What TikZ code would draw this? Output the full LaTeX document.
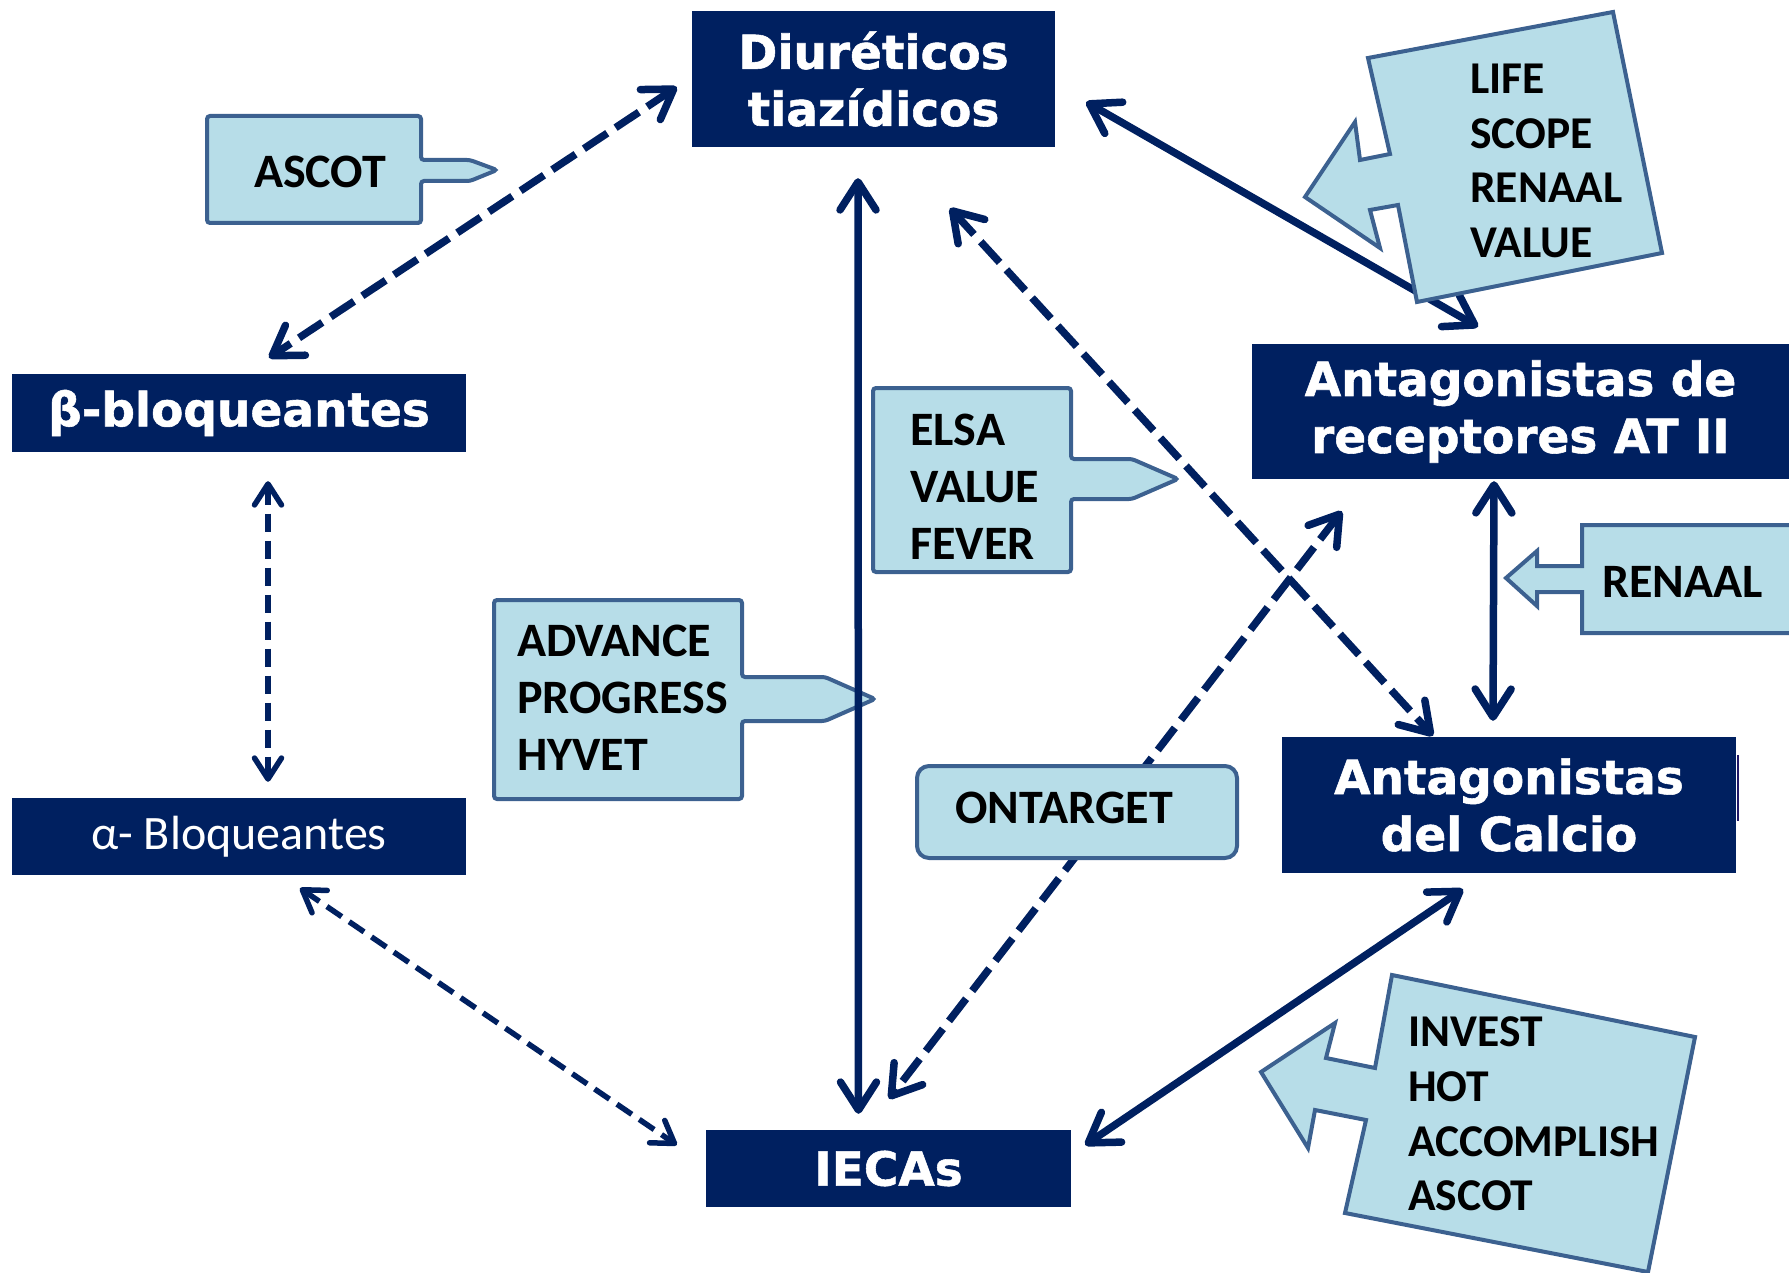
\documentclass[tikz,border=0pt]{standalone}
\usepackage{fontspec}
\setmainfont{Carlito}
\newfontfamily\heavy{DejaVu Sans Bold}[FakeBold=1.2]
\usetikzlibrary{arrows.meta,calc}

\definecolor{navy}{RGB}{0,32,96}
\definecolor{pale}{RGB}{183,221,232}
\definecolor{rim}{RGB}{60,97,144}

\tikzset{
  drug/.style={fill=navy, text=white, align=center, inner sep=0pt,
    font=\heavy\fontsize{47}{57}\selectfont},
  drugplain/.style={drug, font=\fontsize{48}{54}\selectfont},
  trial/.style={fill=pale, draw=rim, line width=4pt, line join=miter},
  triallabel/.style={anchor=west, align=left, inner sep=0pt,
    font=\bfseries\fontsize{48}{57}\selectfont},
  tiltlabel/.style={triallabel, font=\bfseries\fontsize{45.5}{54.7}\selectfont},
  bighead/.style={arrows={Straight Barb[length=28pt,width=36pt,round]-Straight Barb[length=28pt,width=36pt,round]}},
  smallhead/.style={arrows={Straight Barb[length=21pt,width=27pt,round]-Straight Barb[length=21pt,width=27pt,round]}},
  link/.style={draw=navy, line width=7.5pt, bighead},
  dlink/.style={link, dash pattern=on 28pt off 10pt},
  tlink/.style={draw=navy, line width=5.5pt, smallhead, dash pattern=on 18pt off 9pt},
}

\begin{document}
\begin{tikzpicture}[x=1pt,y=-1pt]
\useasboundingbox (0,0) rectangle (1789,1273);

% drug classes
\node[drug, minimum width=363pt, minimum height=136pt] (diu) at (873.5,79) {Diuréticos\\tiazídicos};
\node[drug, minimum width=454pt, minimum height=78pt] (beta) at (239,413) {β-bloqueantes};
\node[drugplain, minimum width=454pt, minimum height=77pt] (alpha) at (239,836.5) {α- Bloqueantes};
\node[drug, minimum width=537pt, minimum height=135pt] (at2) at (1520.5,411.5) {Antagonistas de\\receptores AT II};
\node[drug, minimum width=454pt, minimum height=136pt] (calc) at (1509,805) {Antagonistas\\del Calcio};
\draw[navy!75!violet, line width=1.5pt] ($(calc.east)+(2,-50)$) -- ($(calc.east)+(2,16)$);
\node[drug, minimum width=365pt, minimum height=77pt] (ieca) at (888.5,1168.5) {IECAs};

% trial callout lying under the diuretic--IECA link
\filldraw[trial, rounded corners=3pt] (494,600) -- (742,600) -- (742,677) -- (825,677)
  -- (875,699) -- (825,721) -- (742,721) -- (742,799) -- (494,799) -- cycle;
\node[triallabel] (advance) at (517,698) {ADVANCE\\PROGRESS\\HYVET};

% links between classes
\draw[dlink] ($(diu.west)+(-15,8)$) -- ($(beta.north)+(30,-16)$);
\draw[link] ($(diu.south)+(-15.5,31)$) -- ($(ieca.north)+(-30,-16)$);
\draw[dlink] ($(diu.south)+(76.5,61)$) -- ($(calc.north)+(-76,-1)$);
\draw[link] ($(diu.east)+(31,23)$) -- ($(at2.north)+(-42.5,-17)$);
\draw[link] ($(at2.south)+(-26.5,2)$) -- ($(calc.north)+(-16,-16)$);
\draw[dlink] ($(at2.south west)+(90,32)$) -- ($(ieca.north)+(0.5,-31)$);
\draw[tlink] ($(beta.south)+(29,29)$) -- ($(alpha.north)+(29,-16)$);
\draw[tlink] ($(alpha.south)+(61,13)$) -- ($(ieca.west)+(-29,-23.5)$);
\draw[link] ($(calc.south)+(-46,16)$) -- ($(ieca.east)+(14,-23.5)$);

% trial callouts
\filldraw[trial, rounded corners=3pt] (207,116) -- (421,116) -- (421,160) -- (470,160)
  -- (497,170) -- (470,181) -- (421,181) -- (421,223) -- (207,223) -- cycle;
\node[triallabel, anchor=center] (ascot) at (320,172) {ASCOT};

\filldraw[trial, rounded corners=3pt] (873,388) -- (1071,388) -- (1071,459) -- (1132,459)
  -- (1178,479) -- (1132,499) -- (1071,499) -- (1071,572) -- (873,572) -- cycle;
\node[triallabel] (elsa) at (910,487) {ELSA\\VALUE\\FEVER};

\draw[trial, rounded corners=12pt] (917,766) rectangle (1237,858);
\node[triallabel] (ontarget) at (955,808) {ONTARGET};

\filldraw[trial] (1810,525) -- (1582,525) -- (1582,566) -- (1537,566) -- (1537,551)
  -- (1506,578) -- (1537,606) -- (1537,592) -- (1582,592) -- (1582,633) -- (1810,633);
\node[triallabel] (renaal) at (1602,582) {RENAAL};

\filldraw[trial] (1368,58) -- (1613,12) -- (1662,253) -- (1417,302) -- (1398,205)
  -- (1370,210) -- (1380,248) -- (1305,197) -- (1355,122) -- (1360,160) -- (1390,154) -- cycle;
\node[tiltlabel] (life) at (1470,161) {LIFE\\SCOPE\\RENAAL\\VALUE};

\filldraw[trial] (1392,975) -- (1695,1037) -- (1648,1272) -- (1345,1213) -- (1366,1120)
  -- (1315,1110) -- (1308,1148) -- (1261,1072) -- (1335,1023) -- (1326,1058) -- (1375,1068) -- cycle;
\node[tiltlabel] (invest) at (1408,1114) {INVEST\\HOT\\ACCOMPLISH\\ASCOT};
\end{tikzpicture}
\end{document}
